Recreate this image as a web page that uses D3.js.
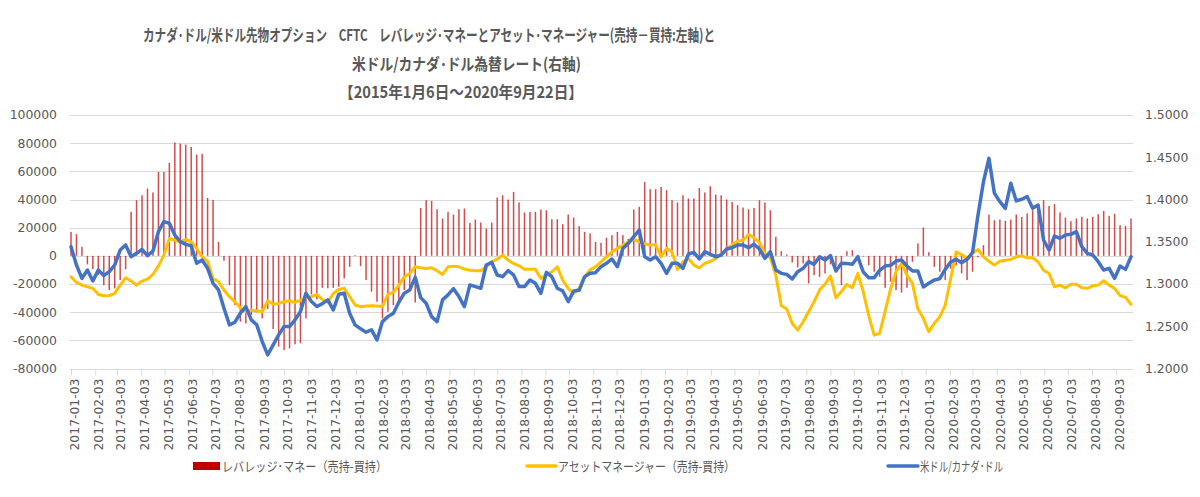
<!DOCTYPE html>
<html>
<head>
<meta charset="utf-8">
<script src="https://cdn.jsdelivr.net/npm/d3@7"></script>
<style>
  body { margin: 0; background: #fff; }
  svg { display: block; }
</style>
</head>
<body>
<div id="chart"></div>
<script>
// weekly CFTC dates (Tuesdays)
const weeks = d3.timeTuesday.range(new Date(2017, 0, 3), new Date(2020, 8, 23));

// レバレッジ・マネー (売持-買持), contracts
const leverageMoney = [
  17000, 15400, 6400, -6100, -9400, -13700, -20800, -24300, -23100, -17200,
  -9600, 31200, 39500, 43000, 47800, 45000, 59600, 59600, 66000, 80400,
  79700, 79000, 77300, 71900, 72400, 41100, 39700, 9900, -3500, -20800,
  -35000, -46800, -48000, -42000, -40100, -44400, -37800, -52000, -64500, -66900,
  -65700, -62800, -62100, -44400, -27400, -30900, -22700, -23000, -22700, -22000,
  -16000, -7800, 500, -7300, -17200, -25500, -32600, -44400, -39700, -35000,
  -31400, -24300, -24300, -33100, 34000, 39500, 39000, 33100, 26500, 31200,
  29300, 33100, 33600, 23400, 25800, 23700, 19400, 23700, 41400, 43000,
  40000, 45400, 37900, 30800, 31200, 31200, 32900, 32400, 26000, 26000,
  22500, 29300, 27200, 21100, 17000, 15900, 9900, 9200, 12800, 14700,
  17000, 14700, 12000, 32900, 34800, 52500, 47300, 47300, 48900, 46600,
  39500, 37900, 43000, 40700, 40700, 48200, 45000, 49400, 43500, 43000,
  40000, 38300, 36000, 34300, 33100, 34000, 39500, 37900, 32400, 13500,
  3300, 1000, -4700, -8200, -5400, -19600, -13700, -14900, -12500, -6100,
  -7500, -20800, 3300, 4000, 500, -500, -6600, -11300, -14900, -22700,
  -18400, -24300, -26000, -22700, -4300, 8800, 20100, 2600, -7800, -11300,
  -17200, -9200, -6600, -12500, -17200, -11300, -1000, 7600, 29300, 25300,
  25800, 24800, 25800, 29300, 27700, 30100, 32400, 36000, 39500, 35500,
  36700, 30800, 27200, 24600, 26500, 27700, 26500, 27700, 29500, 31900,
  28400, 29800, 21800, 21300, 26500
];

// アセットマネージャー (売持-買持), contracts
const assetManager = [
  -14900, -18900, -20800, -22000, -23100, -27400, -28300, -28300, -26700, -20800,
  -15600, -17900, -20800, -17900, -16500, -13200, -7300, 500, 12300, 11100,
  10000, 11600, 10000, 5200, -700, -3800, -16000, -18400, -24300, -29000,
  -32600, -36900, -39700, -38500, -39200, -39700, -32100, -34300, -33800, -32600,
  -31900, -33100, -31400, -29800, -29000, -27400, -31000, -33000, -26700, -23900,
  -23100, -29000, -34900, -36100, -35700, -35400, -35700, -35900, -27400, -26000,
  -20800, -14900, -12500, -7800, -8500, -9000, -8500, -10600, -13200, -7800,
  -7300, -7800, -9400, -10200, -10600, -10600, -7800, -4300, -2400, 500,
  -3100, -5400, -7100, -9600, -9600, -9600, -16000, -13700, -11300, -7800,
  -17200, -23100, -26700, -23100, -15000, -10000, -7800, -4300, -700, 2800,
  5200, 7600, 9900, 11800, 9900, 8700, 7600, 8000, -700, 5200,
  2800, -9600, -4300, -1900, -6600, -8500, -5400, -4000, -1900, 1000,
  4000, 8000, 10400, 11100, 15100, 12800, 9500, 1700, -1400, -13700,
  -35500, -37800, -48000, -52700, -46800, -39700, -32600, -24300, -20100, -14200,
  -29800, -25300, -20300, -22700, -12500, -25500, -42500, -56300, -55100, -39200,
  -23600, -11300, -5400, -13700, -19600, -37800, -44400, -53900, -48000, -43300,
  -35000, -16100, 2800, 900, -1900, 2000, 4500, -700, -3800, -6600,
  -3800, -3100, -2600, -700, 0, -1400, -1400, -4300, -10200, -12500,
  -22000, -20800, -22700, -20100, -20100, -22700, -23100, -21300, -20800, -17700,
  -20800, -23100, -28300, -29500, -34500
];

// 米ドル/カナダ・ドル (右軸)
const usdCad = [
  1.3442, 1.3225, 1.3067, 1.3166, 1.3035, 1.3166, 1.3099, 1.3146, 1.3225, 1.3402,
  1.3462, 1.3323, 1.3363, 1.3410, 1.3335, 1.3390, 1.3619, 1.3738, 1.3718, 1.3580,
  1.3501, 1.3469, 1.3452, 1.3245, 1.3284, 1.3186, 1.3008, 1.2930, 1.2713, 1.2516,
  1.2548, 1.2654, 1.2733, 1.2575, 1.2516, 1.2319, 1.2161, 1.2280, 1.2398, 1.2496,
  1.2496, 1.2575, 1.2674, 1.2891, 1.2792, 1.2733, 1.2768, 1.2812, 1.2693, 1.2878,
  1.2891, 1.2654, 1.2516, 1.2469, 1.2430, 1.2457, 1.2338, 1.2555, 1.2614, 1.2654,
  1.2784, 1.2891, 1.2930, 1.3079, 1.2839, 1.2772, 1.2614, 1.2555, 1.2812, 1.2871,
  1.2945, 1.2851, 1.2733, 1.2989, 1.2969, 1.2950, 1.3225, 1.3257, 1.3107, 1.3087,
  1.3158, 1.3107, 1.2969, 1.2969, 1.3048, 1.3008, 1.2890, 1.3138, 1.3087, 1.2950,
  1.2918, 1.2792, 1.2918, 1.2925, 1.3087, 1.3126, 1.3134, 1.3205, 1.3245, 1.3296,
  1.3205, 1.3422, 1.3481, 1.3560, 1.3639, 1.3323, 1.3284, 1.3323, 1.3245, 1.3126,
  1.3245, 1.3245, 1.3185, 1.3355, 1.3375, 1.3296, 1.3383, 1.3351, 1.3323, 1.3343,
  1.3414, 1.3430, 1.3462, 1.3462, 1.3430, 1.3470, 1.3414, 1.3304, 1.3383, 1.3166,
  1.3126, 1.3114, 1.3059, 1.3146, 1.3185, 1.3264, 1.3233, 1.3323, 1.3284, 1.3335,
  1.3154, 1.3245, 1.3243, 1.3233, 1.3323, 1.3142, 1.3075, 1.3075, 1.3162, 1.3213,
  1.3221, 1.3272, 1.3284, 1.3213, 1.3154, 1.3154, 1.2965, 1.3008, 1.3048, 1.3063,
  1.3173, 1.3260, 1.3292, 1.3252, 1.3292, 1.3370, 1.3817, 1.4211, 1.4487, 1.4073,
  1.3975, 1.3896, 1.4192, 1.3983, 1.4003, 1.4034, 1.3896, 1.3935, 1.3521, 1.3402,
  1.3568, 1.3540, 1.3580, 1.3588, 1.3619, 1.3442, 1.3363, 1.3343, 1.3264, 1.3166,
  1.3185, 1.3067, 1.3213, 1.3173, 1.3323
];

const titleLines = [
  "カナダ･ドル/米ドル先物オプション　CFTC　レバレッジ･マネーとアセット･マネージャー(売持－買持:左軸)と",
  "米ドル/カナダ･ドル為替レート(右軸)",
  "【2015年1月6日～2020年9月22日】"
];
const legendLabels = ["レバレッジ･マネー（売持-買持）", "アセットマネージャー（売持-買持）", "米ドル/カナダ･ドル"];
const leftTicks = d3.range(-80000, 100001, 20000);
const rightTicks = d3.range(1.2, 1.5001, 0.05);
// month ticks on the 3rd
const monthTicks = d3.timeMonth.range(new Date(2017, 0, 1), new Date(2020, 9, 1))
  .map(d => d3.timeDay.offset(d, 2));

const W = 1200, H = 497;
const plot = { left: 70, right: 1133, top: 115, bottom: 368.5 };
const textColor = "#595959";
const gridColor = "#d9d9d9";
const numFont = "'DejaVu Sans', Verdana, sans-serif";
const jpFont = "'Noto Sans CJK JP', 'Noto Sans', sans-serif";

const svg = d3.select("#chart").append("svg")
  .attr("width", W)
  .attr("height", H);

const x = d3.scaleTime()
  .domain([weeks[0], weeks[weeks.length - 1]])
  .range([plot.left + 1, 1131]);

const yLeft = d3.scaleLinear()
  .domain([-80000, 100000])
  .range([plot.bottom, plot.top]);

const yRight = d3.scaleLinear()
  .domain([1.2, 1.5])
  .range([plot.bottom, plot.top]);

// horizontal grid lines
svg.append("g")
  .selectAll("line")
  .data(leftTicks)
  .enter().append("line")
  .attr("x1", plot.left)
  .attr("x2", plot.right)
  .attr("y1", d => Math.round(yLeft(d)) + 0.5)
  .attr("y2", d => Math.round(yLeft(d)) + 0.5)
  .attr("stroke", gridColor)
  .attr("stroke-width", 1);

// x axis (month ticks)
const xAxis = d3.axisBottom(x)
  .tickValues(monthTicks)
  .tickSize(6)
  .tickSizeOuter(0)
  .tickFormat(d3.timeFormat("%Y-%m-%d"));

const gx = svg.append("g")
  .attr("transform", `translate(0,${Math.round(plot.bottom) + 0.5})`)
  .call(xAxis);
gx.select(".domain")
  .attr("d", `M${plot.left},0H${plot.right}`)
  .attr("stroke", gridColor);
gx.selectAll(".tick line").attr("stroke", gridColor);
gx.selectAll(".tick text")
  .attr("transform", "translate(3,9) rotate(-90)")
  .attr("x", 0)
  .attr("y", 0)
  .attr("dy", "0.35em")
  .style("text-anchor", "end")
  .style("font-family", numFont)
  .style("font-size", "12.4px")
  .style("fill", textColor);

// left axis labels
svg.append("g")
  .selectAll("text")
  .data(leftTicks)
  .enter().append("text")
  .attr("x", 57)
  .attr("y", d => yLeft(d))
  .attr("dy", "0.35em")
  .style("text-anchor", "end")
  .style("font-family", numFont)
  .style("font-size", "12.4px")
  .style("fill", textColor)
  .text(d => d);

// right axis labels
svg.append("g")
  .selectAll("text")
  .data(rightTicks)
  .enter().append("text")
  .attr("x", 1145)
  .attr("y", d => yRight(d))
  .attr("dy", "0.35em")
  .style("text-anchor", "start")
  .style("font-family", numFont)
  .style("font-size", "12.4px")
  .style("fill", textColor)
  .text(d => d3.format(".4f")(d));

// bars: leverage money
svg.append("g")
  .selectAll("rect")
  .data(weeks)
  .enter().append("rect")
  .attr("x", d => x(d) - 0.75)
  .attr("width", 1.5)
  .attr("y", (d, i) => yLeft(Math.max(0, leverageMoney[i])))
  .attr("height", (d, i) => Math.abs(yLeft(leverageMoney[i]) - yLeft(0)))
  .attr("fill", "#c00000")
  .attr("fill-opacity", 0.7);

// asset manager line
const lineLeft = d3.line()
  .x((d, i) => x(weeks[i]))
  .y(d => yLeft(d));

svg.append("path")
  .datum(assetManager)
  .attr("fill", "none")
  .attr("stroke", "#ffc000")
  .attr("stroke-width", 3)
  .attr("stroke-linejoin", "round")
  .attr("stroke-linecap", "round")
  .attr("d", lineLeft);

// usd/cad line
const lineRight = d3.line()
  .x((d, i) => x(weeks[i]))
  .y(d => yRight(d));

svg.append("path")
  .datum(usdCad)
  .attr("fill", "none")
  .attr("stroke", "#4472c4")
  .attr("stroke-width", 3.5)
  .attr("stroke-linejoin", "round")
  .attr("stroke-linecap", "round")
  .attr("d", lineRight);

// title
const titlePos = [
  { x: 143, y: 41, len: 572 },
  { x: 352, y: 70, len: 229 },
  { x: 339, y: 98, len: 244 }
];
svg.append("g")
  .selectAll("text")
  .data(titleLines)
  .enter().append("text")
  .attr("x", (d, i) => titlePos[i].x)
  .attr("y", (d, i) => titlePos[i].y)
  .attr("textLength", (d, i) => titlePos[i].len)
  .attr("lengthAdjust", "spacingAndGlyphs")
  .style("font-family", jpFont)
  .style("font-weight", "bold")
  .style("font-size", "16px")
  .style("fill", textColor)
  .text(d => d);

// legend
const legendItems = [
  { type: "rect", color: "#c00000", x0: 193, x1: 220, tx: 222, len: 165 },
  { type: "line", color: "#ffc000", x0: 527, x1: 556, tx: 558, len: 177 },
  { type: "line", color: "#4472c4", x0: 888, x1: 918, tx: 920, len: 83 }
];
const legendY = 466;
const legend = svg.append("g")
  .selectAll("g")
  .data(legendItems)
  .enter().append("g");

legend.filter(d => d.type === "rect").append("rect")
  .attr("x", d => d.x0)
  .attr("y", legendY - 4)
  .attr("width", d => d.x1 - d.x0)
  .attr("height", 8)
  .attr("fill", d => d.color);

legend.filter(d => d.type === "line").append("line")
  .attr("x1", d => d.x0)
  .attr("x2", d => d.x1)
  .attr("y1", legendY)
  .attr("y2", legendY)
  .attr("stroke", d => d.color)
  .attr("stroke-width", 3.5)
  .attr("stroke-linecap", "round");

legend.append("text")
  .attr("x", d => d.tx)
  .attr("y", legendY)
  .attr("dy", "0.36em")
  .attr("textLength", d => d.len)
  .attr("lengthAdjust", "spacingAndGlyphs")
  .style("font-family", jpFont)
  .style("font-size", "13px")
  .style("fill", textColor)
  .text((d, i) => legendLabels[i]);
</script>
</body>
</html>
